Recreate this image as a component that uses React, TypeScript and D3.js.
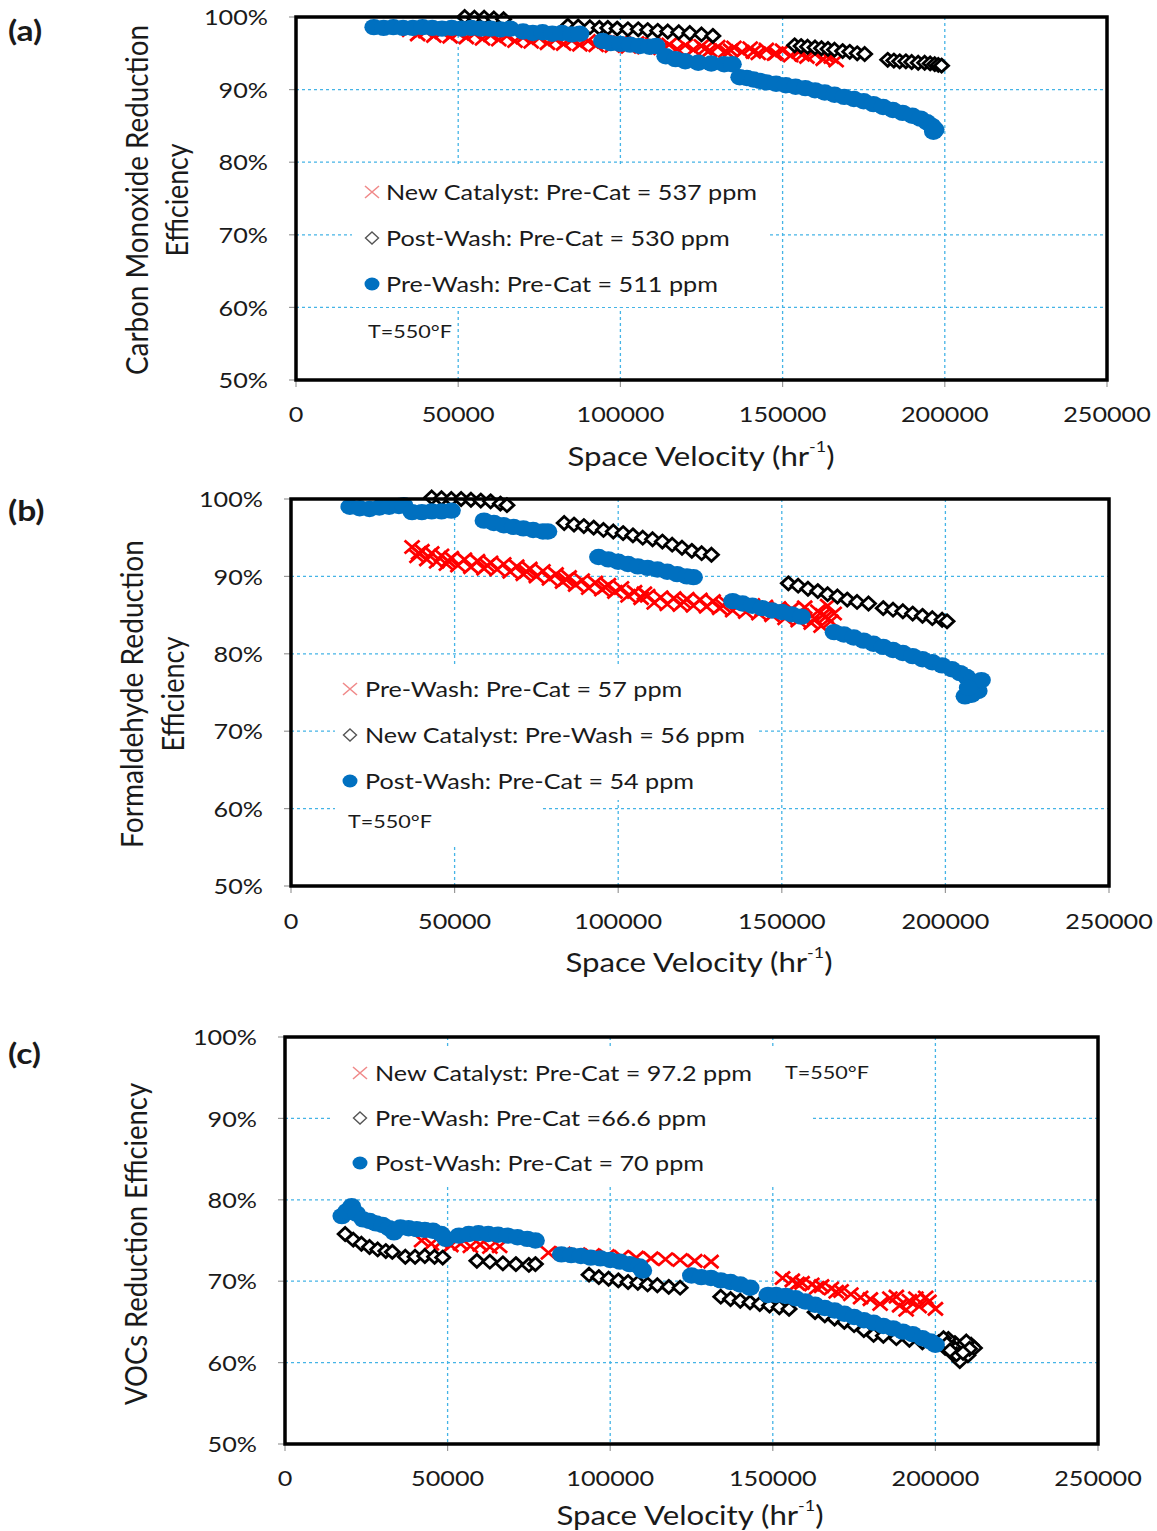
import React from 'react';
import * as d3 from 'd3';

type Pt = [number, number];

const xTicks = [0, 50000, 100000, 150000, 200000, 250000];
const yTicks = [50, 60, 70, 80, 90, 100];
const tempLabel = 'T=550°F';

// ---------- Panel (a): Carbon Monoxide ----------
const aLegend = ['New Catalyst: Pre-Cat = 537 ppm', 'Post-Wash: Pre-Cat = 530 ppm', 'Pre-Wash: Pre-Cat = 511 ppm'];
const aNewCatalyst: Pt[] = [
  [35000, 98.2], [37500, 97.6], [40000, 98.0], [42500, 97.4], [45000, 97.9], [47500, 97.3], [50000, 97.8], [52500, 97.2],
  [55000, 97.7], [57500, 97.0], [60000, 97.5], [62500, 96.9], [65000, 97.4], [67500, 96.7], [70000, 97.2], [72500, 96.6],
  [75000, 97.1], [77500, 96.4], [80000, 96.9], [82500, 96.3], [85000, 96.8], [87500, 96.2], [90000, 96.7], [92500, 96.1],
  [95000, 96.6], [97500, 96.0], [100000, 96.5], [102500, 95.9], [105000, 96.4], [107500, 95.8], [110000, 96.3], [112500, 95.7],
  [115000, 96.2], [117500, 95.6], [120000, 96.1], [122500, 95.5], [125000, 96.0], [127500, 95.4], [130000, 95.9], [132500, 95.3],
  [135000, 95.8], [137500, 95.2], [140000, 95.7], [142500, 95.0], [145000, 95.5], [147500, 94.9], [150000, 95.4], [152500, 94.7],
  [155000, 95.2], [157500, 94.5], [160000, 94.9], [162500, 94.2], [165000, 94.5], [166500, 94.0],
  [126000, 95.6], [134000, 95.4], [141000, 95.2], [148000, 95.0], [156000, 94.8], [163500, 94.6],
];
const aPostWash: Pt[] = [
  [52000, 100.0], [55000, 99.9], [58000, 99.9], [61000, 99.8], [64000, 99.7],
  [83800, 98.8], [87000, 98.7], [90600, 98.6], [93500, 98.5], [96100, 98.5], [99000, 98.4], [102300, 98.3], [105500, 98.3],
  [108400, 98.2], [111500, 98.1], [114600, 98.0], [118000, 97.9], [121400, 97.8], [125000, 97.6], [128500, 97.4],
  [153700, 96.1], [155700, 96.0], [157700, 95.9], [160000, 95.8], [162000, 95.7], [164000, 95.6], [166000, 95.5],
  [168500, 95.3], [170700, 95.2], [173000, 95.0], [175300, 94.9],
  [182400, 94.1], [184300, 94.0], [186100, 93.9], [188000, 93.9], [189800, 93.8], [191800, 93.7], [193800, 93.7],
  [195500, 93.6], [196900, 93.5], [198000, 93.4], [199000, 93.3],
];
const aPreWash: Pt[] = [
  [24000, 98.6], [27000, 98.5], [30000, 98.6], [33000, 98.5], [36000, 98.5], [39000, 98.6], [42000, 98.5], [45000, 98.4],
  [48000, 98.5], [51000, 98.4], [54000, 98.5], [57000, 98.4], [60000, 98.4], [63000, 98.3], [66000, 98.4],
  [70000, 98.0], [73000, 97.8], [76000, 97.9], [79000, 97.7], [82000, 97.8], [85000, 97.6], [87500, 97.7],
  [94500, 96.7], [97000, 96.4], [100000, 96.3], [103000, 96.2], [106000, 96.0], [109000, 95.9], [111000, 96.0],
  [114000, 94.6], [117000, 94.2], [120000, 93.9], [124000, 93.7], [128000, 93.6], [132000, 93.5], [134500, 93.5],
  [136800, 91.7], [139000, 91.6], [141000, 91.4], [143000, 91.2], [145000, 91.0], [148000, 90.8], [151000, 90.6],
  [154000, 90.4], [157000, 90.2], [160000, 89.9], [163000, 89.6], [166000, 89.3], [169000, 89.0], [172000, 88.7],
  [175000, 88.4], [178000, 88.0], [181000, 87.6], [184000, 87.2], [187000, 86.8], [190000, 86.4], [192500, 86.0],
  [194500, 85.5], [196000, 85.0], [197000, 84.5], [196500, 84.2],
];

// ---------- Panel (b): Formaldehyde ----------
const bLegend = ['Pre-Wash: Pre-Cat = 57 ppm', 'New Catalyst: Pre-Wash = 56 ppm', 'Post-Wash: Pre-Cat = 54 ppm'];
const bPreWash: Pt[] = [
  [37000, 93.8], [38500, 92.6], [40000, 93.3], [41500, 92.2], [43000, 93.0], [44500, 91.9], [46000, 92.7], [47500, 91.6],
  [49000, 92.4], [51000, 91.4], [53000, 92.2], [55000, 91.2], [57000, 92.0], [59000, 91.0], [61000, 91.8], [63000, 90.9],
  [65000, 91.6], [67000, 90.6], [69000, 91.3], [71000, 90.3], [73000, 91.0], [75000, 90.0], [77000, 90.7], [79000, 89.7],
  [81000, 90.3], [83000, 89.3], [85000, 89.9], [87000, 88.9], [89000, 89.5], [91000, 88.5], [93000, 89.2], [95000, 88.3],
  [97000, 88.9], [99000, 88.0], [101000, 88.5], [103000, 87.5], [105000, 88.0], [107000, 87.2], [109000, 87.5], [111000, 86.6],
  [113000, 87.3], [115000, 86.4], [117000, 87.2], [119000, 86.3], [121000, 87.1], [123000, 86.2], [125000, 87.0], [127000, 86.1],
  [129000, 86.8], [131000, 85.9], [133000, 86.6], [135000, 85.6], [137000, 86.4], [139000, 85.4], [141000, 86.3], [143000, 85.2],
  [145000, 86.1], [147000, 85.0], [149000, 85.9], [151000, 84.6], [153000, 85.8], [155000, 84.3], [157000, 86.0], [159000, 84.0],
  [161000, 85.5], [162000, 83.6], [163500, 84.8], [165000, 84.2], [166000, 85.2], [164000, 86.2],
  [39000, 93.0], [48000, 92.0], [60000, 91.4], [72000, 90.6], [84000, 89.6], [96000, 88.6], [108000, 87.8], [120000, 86.7],
  [132000, 86.2], [144000, 85.7], [156000, 85.0], [160000, 84.6], [162500, 85.0],
];
const bNewCatalyst: Pt[] = [
  [43000, 100.2], [46000, 100.1], [49000, 100.0], [52000, 100.0], [55000, 99.9], [58000, 99.8], [61000, 99.7], [64000, 99.4], [66000, 99.2],
  [83500, 96.9], [86500, 96.7], [89500, 96.5], [92500, 96.3], [95500, 96.0], [98500, 95.8], [101500, 95.6], [104500, 95.3],
  [107500, 95.0], [110500, 94.8], [113500, 94.5], [116500, 94.1], [119500, 93.7], [122500, 93.3], [125500, 93.0], [128500, 92.8],
  [152000, 89.1], [155000, 88.8], [158000, 88.4], [161000, 88.1], [164000, 87.7], [167000, 87.4], [170000, 87.0], [173000, 86.7], [176500, 86.5],
  [181000, 85.9], [184000, 85.7], [187000, 85.5], [190000, 85.2], [193000, 84.9], [196000, 84.6], [199000, 84.4], [200500, 84.2],
];
const bPostWash: Pt[] = [
  [18000, 99.0], [21000, 98.8], [24000, 98.7], [27000, 98.9], [30000, 99.0], [33000, 99.1], [34500, 99.2],
  [37000, 98.3], [40000, 98.3], [43000, 98.4], [46000, 98.4], [49000, 98.5],
  [59000, 97.2], [62000, 96.9], [65000, 96.6], [68000, 96.4], [71000, 96.2], [74000, 96.0], [77000, 95.8], [78500, 95.8],
  [94000, 92.5], [97000, 92.2], [100000, 91.9], [103000, 91.6], [106000, 91.3], [109000, 91.1], [112000, 90.9], [115000, 90.6],
  [118000, 90.3], [121000, 90.0], [123000, 89.9],
  [135000, 86.8], [138000, 86.5], [141000, 86.2], [144000, 85.9], [147000, 85.6], [150000, 85.4], [153000, 85.1], [156000, 84.8],
  [166000, 82.8], [169000, 82.5], [172000, 82.1], [175000, 81.7], [178000, 81.3], [181000, 80.9], [184000, 80.5], [187000, 80.1],
  [190000, 79.7], [193000, 79.3], [196000, 78.9], [199000, 78.5], [202000, 78.0], [204500, 77.5], [206500, 77.0], [208000, 76.4],
  [209000, 75.8], [210000, 75.2], [208000, 74.7], [206000, 74.5], [211000, 76.6], [207000, 75.6],
];

// ---------- Panel (c): VOCs ----------
const cLegend = ['New Catalyst: Pre-Cat = 97.2 ppm', 'Pre-Wash: Pre-Cat =66.6 ppm', 'Post-Wash: Pre-Cat = 70 ppm'];
const cNewCatalyst: Pt[] = [
  [42000, 75.0], [45000, 74.6], [48000, 74.8], [51000, 74.4], [54000, 74.6], [57000, 74.3], [60000, 74.5], [63000, 74.2], [66000, 74.3],
  [81000, 73.5], [85500, 73.4], [90000, 73.3], [94500, 73.2], [99000, 73.1], [103500, 73.0], [108000, 72.9], [112500, 72.8],
  [117000, 72.7], [121500, 72.6], [126000, 72.5], [131000, 72.4],
  [153000, 70.4], [156000, 70.1], [159000, 69.8], [162000, 69.6], [165000, 69.4], [168000, 69.1], [171000, 68.8], [174000, 68.4], [177000, 68.0],
  [180000, 67.8], [183000, 67.2], [186000, 67.9], [189000, 67.0], [192000, 67.6], [195000, 66.9], [198000, 67.5], [200000, 66.6],
  [197000, 68.0], [188000, 68.1], [157500, 69.7], [163500, 69.2], [169500, 68.7], [194000, 67.9], [191000, 66.5],
];
const cPreWash: Pt[] = [
  [18500, 75.8], [21000, 75.1], [23500, 74.6], [26000, 74.2], [28500, 73.9], [31000, 73.7], [33000, 73.6],
  [37000, 73.0], [40000, 73.0], [43000, 73.1], [46000, 73.0], [48500, 72.9],
  [59000, 72.5], [63000, 72.4], [67000, 72.2], [71000, 72.1], [75000, 72.0], [77000, 72.1],
  [93500, 70.8], [96500, 70.5], [99500, 70.3], [102500, 70.1], [105500, 69.9], [108500, 69.8], [111500, 69.6], [114500, 69.5],
  [118000, 69.3], [121500, 69.2],
  [134000, 68.1], [137000, 67.8], [140000, 67.6], [143000, 67.4], [146000, 67.2], [149000, 67.0], [152000, 66.8], [155000, 66.6],
  [163000, 66.2], [166000, 65.8], [169000, 65.4], [172000, 65.0], [175000, 64.6], [178000, 64.0], [181000, 63.4],
  [184000, 63.3], [188000, 63.0], [192000, 62.8], [196000, 62.5],
  [201000, 62.5], [203000, 61.8], [205000, 61.2], [207000, 60.6], [209000, 61.5], [211000, 62.2], [212000, 61.8], [210000, 60.9],
  [206000, 62.4], [204000, 62.9], [208000, 62.0], [207500, 60.2], [202500, 63.0], [205500, 61.9], [209500, 62.6], [206500, 61.0],
  [203500, 62.3], [210500, 61.7], [204500, 61.5], [208500, 61.2],
];
const cPostWash: Pt[] = [
  [17500, 78.0], [19000, 78.6], [20500, 79.2], [22000, 78.3], [24000, 77.6], [26000, 77.4], [28000, 77.1], [30000, 76.9], [32000, 76.5], [33500, 76.0],
  [35500, 76.6], [38000, 76.5], [40500, 76.4], [43000, 76.3], [45500, 76.2], [48000, 75.8], [49500, 75.2],
  [53500, 75.6], [56500, 75.8], [59500, 75.9], [62500, 75.8], [65500, 75.7], [68500, 75.6], [71500, 75.4], [74500, 75.2], [77000, 75.0],
  [85000, 73.3], [88000, 73.2], [91000, 73.1], [94000, 72.9], [97000, 72.8], [100000, 72.6], [103000, 72.4], [106000, 72.1], [109000, 71.8], [110000, 71.3],
  [125000, 70.7], [128000, 70.5], [131000, 70.4], [134000, 70.1], [137000, 69.9], [140000, 69.6], [143000, 69.2],
  [148500, 68.3], [151000, 68.3], [154000, 68.2], [157000, 67.9], [160000, 67.5], [163000, 67.1], [166000, 66.7], [169000, 66.4],
  [172000, 66.0], [175000, 65.6], [178000, 65.2], [181000, 64.9], [184000, 64.5], [187000, 64.2], [190000, 63.8], [193000, 63.5],
  [196000, 63.0], [198500, 62.6], [200000, 62.2],
];

// ---------- styling ----------
const FONT = "Lato, 'Open Sans', sans-serif";
const SX = 1.2;
const GRID = '#45b4e6';
const RED = '#ff0000';
const BLUE = '#0070c0';
const TXT = '#1a1a1a';

const xPath = (w: number, h: number) => `M${-w},${-h}L${w},${h}M${-w},${h}L${w},${-h}`;
const diamondPath = (w: number, h: number) => `M0,${-h}L${w},0L0,${h}L${-w},0Z`;

function HText(props: { x: number; y: number; size: number; anchor?: string; weight?: number; children: React.ReactNode }) {
  const { x, y, size, anchor = 'start', weight = 400, children } = props;
  return (
    <text
      transform={`translate(${x},${y}) scale(${SX},1)`}
      fontSize={size}
      fontFamily={FONT}
      fontWeight={weight}
      textAnchor={anchor as any}
      dominantBaseline="central"
      fill={TXT}
    >
      {children}
    </text>
  );
}

interface PanelCfg {
  L: number; T: number; R: number; B: number;
  label: string; labelY: number;
  yTitle: { text: string; x: number; len: number }[]; yTitleY: number;
  markX: number; textX: number; rows: number[]; tempX: number; tempY: number;
  masks: number[][];
  xTickY: number; xTitleX: number; xTitleY: number;
  series: Pt[][]; legend: string[];
}

function Panel({ c }: { c: PanelCfg }) {
  const x = d3.scaleLinear().domain([0, 250000]).range([c.L, c.R]);
  const y = d3.scaleLinear().domain([50, 100]).range([c.B, c.T]);
  const [redS, diaS, bluS] = c.series;
  return (
    <g>
      {xTicks.slice(1, -1).map((t) => (
        <line key={'gx' + t} x1={x(t)} x2={x(t)} y1={c.T} y2={c.B} stroke={GRID} strokeWidth={1.3} strokeDasharray="3,3" />
      ))}
      {yTicks.slice(1, -1).map((t) => (
        <line key={'gy' + t} x1={c.L} x2={c.R} y1={y(t)} y2={y(t)} stroke={GRID} strokeWidth={1.3} strokeDasharray="3,3" />
      ))}
      {c.masks.map((m, i) => (
        <rect key={'m' + i} x={m[0]} y={m[1]} width={m[2]} height={m[3]} fill="#fff" />
      ))}
      {xTicks.map((t) => (
        <line key={'tx' + t} x1={x(t)} x2={x(t)} y1={c.B} y2={c.B + 7} stroke="#999" strokeWidth={1.2} />
      ))}
      {yTicks.map((t) => (
        <line key={'ty' + t} x1={c.L - 7} x2={c.L} y1={y(t)} y2={y(t)} stroke="#999" strokeWidth={1.2} />
      ))}
      {redS.map((d, i) => (
        <path key={'r' + i} transform={`translate(${x(d[0])},${y(d[1])})`} d={xPath(7.5, 6.5)} stroke={RED} strokeWidth={2.8} fill="none" />
      ))}
      {diaS.map((d, i) => (
        <path key={'d' + i} transform={`translate(${x(d[0])},${y(d[1])})`} d={diamondPath(7, 6.5)} stroke="#000" strokeWidth={2.8} fill="#fff" />
      ))}
      {bluS.map((d, i) => (
        <ellipse key={'b' + i} cx={x(d[0])} cy={y(d[1])} rx={9.5} ry={8.2} fill={BLUE} />
      ))}
      <rect x={c.L} y={c.T} width={c.R - c.L} height={c.B - c.T} fill="none" stroke="#000" strokeWidth={3.5} />
      {yTicks.map((t) => (
        <HText key={'yl' + t} x={c.L - 28} y={y(t)} size={21} anchor="end">{`${t}%`}</HText>
      ))}
      {xTicks.map((t) => (
        <HText key={'xl' + t} x={x(t)} y={c.xTickY} size={21} anchor="middle">{String(t)}</HText>
      ))}
      <text
        transform={`translate(${c.xTitleX},${c.xTitleY}) scale(${SX},1)`}
        fontSize={26}
        fontFamily={FONT}
        textAnchor="middle"
        dominantBaseline="central"
        fill={TXT}
      >
        <tspan>Space Velocity (hr</tspan>
        <tspan dy={-9} fontSize={15}>-1</tspan>
        <tspan dy={9}>)</tspan>
      </text>
      {c.yTitle.map((t, i) => (
        <text
          key={'yt' + i}
          transform={`translate(${t.x},${c.yTitleY}) rotate(-90) scale(1,${SX})`}
          fontSize={26}
          fontFamily={FONT}
          textAnchor="middle"
          dominantBaseline="central"
          textLength={t.len}
          lengthAdjust="spacingAndGlyphs"
          fill={TXT}
        >
          {t.text}
        </text>
      ))}
      <HText x={8} y={c.labelY} size={28} weight={700}>{c.label}</HText>
      {/* legend */}
      <path transform={`translate(${c.markX},${c.rows[0]})`} d={xPath(7, 6)} stroke="#f08a8a" strokeWidth={1.6} fill="none" />
      <path transform={`translate(${c.markX},${c.rows[1]})`} d={diamondPath(6.5, 6)} stroke="#555" strokeWidth={1.4} fill="#fff" />
      <ellipse cx={c.markX} cy={c.rows[2]} rx={7.5} ry={6.5} fill={BLUE} />
      {c.legend.map((s, i) => (
        <HText key={'lg' + i} x={c.textX} y={c.rows[i]} size={21}>{s}</HText>
      ))}
      <HText x={c.tempX} y={c.tempY} size={18}>{tempLabel}</HText>
    </g>
  );
}

const cfgA: PanelCfg = {
  L: 296, T: 17, R: 1107, B: 380, label: '(a)', labelY: 30,
  yTitle: [{ text: 'Carbon Monoxide Reduction', x: 136, len: 350 }, { text: 'Efficiency', x: 176, len: 113 }], yTitleY: 200,
  markX: 372, textX: 386, rows: [192, 238, 284], tempX: 368, tempY: 331,
  masks: [[352, 167, 416, 140]],
  xTickY: 414, xTitleX: 701, xTitleY: 456,
  series: [aNewCatalyst, aPostWash, aPreWash], legend: aLegend,
};
const cfgB: PanelCfg = {
  L: 291, T: 499, R: 1109, B: 886, label: '(b)', labelY: 510,
  yTitle: [{ text: 'Formaldehyde Reduction', x: 131, len: 308 }, { text: 'Efficiency', x: 172, len: 115 }], yTitleY: 694,
  markX: 350, textX: 365, rows: [689, 735, 781], tempX: 348, tempY: 821,
  masks: [[335, 667, 422, 133], [335, 800, 205, 45]],
  xTickY: 921, xTitleX: 699, xTitleY: 962,
  series: [bPreWash, bNewCatalyst, bPostWash], legend: bLegend,
};
const cfgC: PanelCfg = {
  L: 285, T: 1037, R: 1098, B: 1444, label: '(c)', labelY: 1053,
  yTitle: [{ text: 'VOCs Reduction Efficiency', x: 135, len: 322 }], yTitleY: 1244,
  markX: 360, textX: 375, rows: [1073, 1118, 1163], tempX: 785, tempY: 1072,
  masks: [[330, 1047, 483, 138]],
  xTickY: 1478, xTitleX: 690, xTitleY: 1515,
  series: [cNewCatalyst, cPreWash, cPostWash], legend: cLegend,
};

export default function App() {
  return (
    <svg
      width={1157}
      height={1531}
      viewBox="0 0 1157 1531"
      style={{ position: 'absolute', left: 0, top: 0, background: '#fff' }}
    >
      <rect x={0} y={0} width={1157} height={1531} fill="#fff" />
      <Panel c={cfgA} />
      <Panel c={cfgB} />
      <Panel c={cfgC} />
    </svg>
  );
}
